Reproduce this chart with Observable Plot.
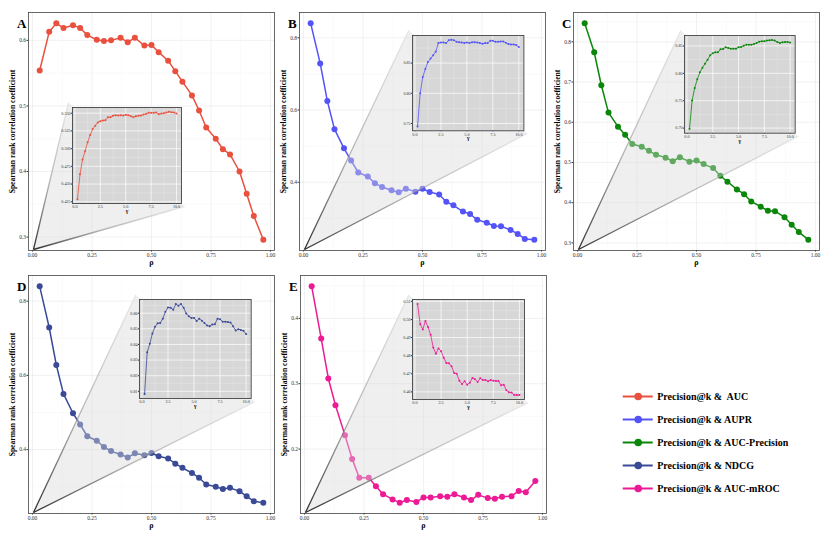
<!DOCTYPE html>
<html><head><meta charset="utf-8">
<script src="https://cdn.jsdelivr.net/npm/d3@7"></script>
<script src="https://cdn.jsdelivr.net/npm/@observablehq/plot@0.6"></script>
<style>
body{margin:0;background:#fff;}
#wrap{position:relative;width:830px;height:537px;overflow:hidden;font-family:"Liberation Serif",serif;}
#wrap svg{position:absolute;overflow:visible;background:transparent;}
</style></head><body><div id="wrap"></div>
<script>
// ---- data ----
const rho = [0.03,0.07,0.10,0.13,0.17,0.20,0.23,0.27,0.30,0.33,0.37,0.40,0.43,0.47,0.50,0.53,0.57,0.60,0.63,0.67,0.70,0.73,0.77,0.80,0.83,0.87,0.90,0.93,0.97];
const gamma = [0.25,0.5,0.75,1,1.25,1.5,1.75,2,2.25,2.5,2.75,3,3.25,3.5,3.75,4,4.25,4.5,4.75,5,5.25,5.5,5.75,6,6.25,6.5,6.75,7,7.25,7.5,7.75,8,8.25,8.5,8.75,9,9.25,9.5,9.75,10];

const seriesNames = ["Precision@k &  AUC","Precision@k & AUPR","Precision@k & AUC-Precision","Precision@k & NDCG","Precision@k & AUC-mROC"];
const seriesColors = ["#E9503E","#5454F6","#0A870A","#3A4A96","#EC1A95"];

const aucMain = [0.554,0.613,0.626,0.619,0.623,0.619,0.608,0.601,0.599,0.600,0.604,0.597,0.604,0.592,0.593,0.582,0.569,0.553,0.537,0.516,0.493,0.467,0.450,0.434,0.426,0.400,0.366,0.332,0.296];
const auprMain = [0.840,0.729,0.625,0.547,0.494,0.460,0.427,0.416,0.397,0.387,0.378,0.372,0.382,0.374,0.382,0.373,0.366,0.346,0.336,0.319,0.312,0.296,0.288,0.279,0.278,0.268,0.257,0.243,0.241];
const aucPrecMain = [0.846,0.774,0.692,0.624,0.589,0.569,0.546,0.539,0.529,0.519,0.512,0.503,0.513,0.502,0.505,0.496,0.486,0.467,0.452,0.433,0.421,0.403,0.390,0.380,0.379,0.364,0.345,0.327,0.308];
const ndcgMain = [0.840,0.729,0.628,0.550,0.498,0.468,0.436,0.424,0.407,0.396,0.387,0.379,0.390,0.385,0.391,0.382,0.376,0.362,0.351,0.337,0.324,0.306,0.300,0.294,0.297,0.288,0.274,0.261,0.257];
const mrocMain = [0.449,0.369,0.308,0.267,0.221,0.185,0.156,0.156,0.143,0.131,0.123,0.118,0.122,0.119,0.126,0.126,0.128,0.127,0.131,0.126,0.122,0.130,0.125,0.124,0.127,0.128,0.136,0.134,0.151];

const aucInset = [0.4287,0.4637,0.4847,0.4964,0.5090,0.5192,0.5276,0.5323,0.5369,0.5388,0.5397,0.5402,0.5444,0.5444,0.5463,0.5472,0.5467,0.5472,0.5467,0.5477,0.5472,0.5458,0.5444,0.5458,0.5463,0.5467,0.5481,0.5491,0.5505,0.5505,0.5505,0.5509,0.5486,0.5495,0.5500,0.5509,0.5519,0.5514,0.5509,0.5495];
const auprInset = [0.7451,0.8000,0.8268,0.8404,0.8519,0.8574,0.8628,0.8689,0.8831,0.8842,0.8842,0.8831,0.8880,0.8885,0.8880,0.8852,0.8847,0.8842,0.8831,0.8842,0.8831,0.8847,0.8847,0.8842,0.8831,0.8820,0.8831,0.8831,0.8869,0.8869,0.8852,0.8852,0.8858,0.8858,0.8836,0.8814,0.8809,0.8809,0.8798,0.8765];
const aucPrecInset = [0.6988,0.7506,0.7732,0.7890,0.8018,0.8104,0.8177,0.8250,0.8329,0.8366,0.8384,0.8384,0.8439,0.8445,0.8476,0.8463,0.8451,0.8451,0.8451,0.8476,0.8482,0.8506,0.8524,0.8524,0.8524,0.8537,0.8555,0.8579,0.8585,0.8585,0.8598,0.8604,0.8610,0.8598,0.8573,0.8555,0.8567,0.8573,0.8573,0.8561];
const ndcgInset = [0.8083,0.8350,0.8404,0.8470,0.8513,0.8535,0.8537,0.8565,0.8609,0.8637,0.8635,0.8622,0.8659,0.8648,0.8659,0.8635,0.8598,0.8580,0.8570,0.8570,0.8550,0.8565,0.8552,0.8537,0.8522,0.8517,0.8528,0.8530,0.8565,0.8561,0.8546,0.8546,0.8543,0.8541,0.8517,0.8489,0.8498,0.8493,0.8487,0.8467];
const mrocInset = [0.5085,0.4974,0.4945,0.4992,0.4958,0.4915,0.4845,0.4811,0.4840,0.4825,0.4789,0.4760,0.4758,0.4742,0.4704,0.4700,0.4662,0.4643,0.4658,0.4640,0.4651,0.4677,0.4670,0.4655,0.4675,0.4666,0.4666,0.4658,0.4666,0.4662,0.4660,0.4660,0.4636,0.4640,0.4609,0.4598,0.4596,0.4583,0.4583,0.4583];

const rhoTicks = [0,0.25,0.5,0.75,1];
const gammaTicks = [0,2.5,5,7.5,10];
const mainYTicks = [[0.3,0.4,0.5,0.6],[0.4,0.6,0.8],[0.3,0.4,0.5,0.6,0.7,0.8],[0.4,0.6,0.8],[0.2,0.3,0.4]];
const insetYTicks = [[0.425,0.45,0.475,0.5,0.525,0.55],[0.75,0.8,0.85],[0.7,0.75,0.8,0.85],[0.81,0.82,0.83,0.84,0.85,0.86],[0.46,0.47,0.48,0.49,0.5,0.51]];
const insetYFormats = [".3f",".2f",".2f",".2f",".2f"];
const letters = ["A","B","C","D","E"];
const mainSeries = [aucMain,auprMain,aucPrecMain,ndcgMain,mrocMain];
const insetSeries = [aucInset,auprInset,aucPrecInset,ndcgInset,mrocInset];

// ---- layout (pixels) ----
const layout = [
  {left:0,   top:0,   box:[72,107,109,96]},
  {left:271, top:0,   box:[141.3,34.7,111.4,95.3]},
  {left:545, top:0,   box:[139.3,35,110.7,97.7]},
  {left:0,   top:263, box:[139.3,36.3,111.7,99]},
  {left:272, top:263, box:[140.3,36.3,112,100]}
];
const W=275, H=272, ML=28, MR=1, MT=12, MB=22;
const FONT = "'Liberation Serif', 'Times New Roman', serif";
const wrap = document.getElementById("wrap");

function expand(v){const [a,b]=d3.extent(v); const r=b-a; return [a-0.05*r, b+0.05*r];}
function minors(ticks, dom){
  const s = ticks[1]-ticks[0];
  const out = ticks.map(t=>t-s/2).concat([ticks[ticks.length-1]+s/2]);
  return out.filter(v=>v>dom[0] && v<dom[1]);
}
function place(svg, left, top){ svg.style.left = left+"px"; svg.style.top = top+"px"; wrap.appendChild(svg); }

letters.forEach((letter,i)=>{
  const L = layout[i], color = seriesColors[i];
  const mainData = rho.map((r,j)=>({x:r, y:mainSeries[i][j]}));
  const xd = expand(rho), yd = expand(mainSeries[i]);
  const sx = Plot.scale({x:{domain:xd, range:[ML, W-MR]}});
  const sy = Plot.scale({y:{domain:yd, range:[H-MB, MT]}});
  const [bl,bt,bw,bh] = L.box;
  const O = {x: sx.invert(ML+5), y: sy.invert(H-MB-1)};
  const P1 = {x: sx.invert(bl-4), y: sy.invert(bt-5)};
  const P2 = {x: sx.invert(bl+bw+3), y: sy.invert(bt+bh+3)};
  const tri = [O,P1,P2];
  const edges = [{x1:O.x,y1:O.y,x2:P1.x,y2:P1.y},{x1:O.x,y1:O.y,x2:P2.x,y2:P2.y}];
  const gid = "grad"+letter;
  const yt = mainYTicks[i];
  const yMid = (yd[0]+yd[1])/2;
  const main = Plot.plot({
    width:W, height:H, marginLeft:ML, marginRight:MR, marginTop:MT, marginBottom:MB,
    style:{fontFamily:FONT, fontSize:"5.5px", color:"#333", background:"transparent"},
    x:{domain:xd, ticks:rhoTicks, tickFormat:d3.format(".2f"), tickSize:1.5, tickPadding:1.5, label:null},
    y:{domain:yd, ticks:yt, tickFormat:d3.format(".1f"), tickSize:1.5, tickPadding:1, label:null},
    marks:[
      ()=>{const d=d3.create("svg:defs");const g=d.append("linearGradient").attr("id",gid).attr("x1",0).attr("y1",1).attr("x2",1).attr("y2",0);
           g.append("stop").attr("offset","0%").attr("stop-color","#222").attr("stop-opacity",0.95);
           g.append("stop").attr("offset","45%").attr("stop-color","#888").attr("stop-opacity",0.6);
           g.append("stop").attr("offset","100%").attr("stop-color","#d8d8d8").attr("stop-opacity",0.5);return d.node();},
      Plot.ruleX(minors(rhoTicks,xd),{stroke:"#f2f2f2",strokeWidth:0.4}),
      Plot.ruleY(minors(yt,yd),{stroke:"#f2f2f2",strokeWidth:0.4}),
      Plot.ruleX(rhoTicks,{stroke:"#e8e8e8",strokeWidth:0.6}),
      Plot.ruleY(yt,{stroke:"#e8e8e8",strokeWidth:0.6}),
      Plot.line(mainData,{x:"x",y:"y",stroke:color,strokeWidth:1.5}),
      Plot.dot(mainData,{x:"x",y:"y",r:3,fill:color,stroke:"none"}),
      Plot.line(tri,{x:"x",y:"y",fill:"#d8d8d8",fillOpacity:0.42,stroke:"none",curve:"linear-closed"}),
      Plot.link(edges,{x1:"x1",y1:"y1",x2:"x2",y2:"y2",stroke:`url(#${gid})`,strokeWidth:1.3}),
      Plot.frame({stroke:"#444",strokeWidth:0.8}),
      Plot.text(["Spearman rank correlation coefficient"],{text:d=>d,x:xd[0],y:yMid,rotate:-90,dx:-15.5,textAnchor:"middle",fontSize:7.6,fontWeight:"bold",fill:"#000"}),
      Plot.text(["ρ"],{text:d=>d,frameAnchor:"bottom",dy:14,fontSize:8,fontWeight:"bold",fill:"#000"}),
      Plot.text([letter],{text:d=>d,frameAnchor:"top-left",dx:-11.5,dy:6.5,fontSize:13,fontWeight:"bold",fill:"#000"})
    ]
  });
  place(main, L.left, L.top);

  // inset
  const iml=14, imr=1, imt=1, imb=14;
  const insetData = gamma.map((g,j)=>({x:g, y:insetSeries[i][j]}));
  const ixd = expand(gamma), iyd = expand(insetSeries[i]);
  const iyt = insetYTicks[i];
  const inset = Plot.plot({
    width:bw+iml+imr, height:bh+imt+imb, marginLeft:iml, marginRight:imr, marginTop:imt, marginBottom:imb,
    style:{fontFamily:FONT, fontSize:"4.2px", color:"#333", background:"transparent"},
    x:{domain:ixd, ticks:gammaTicks, tickFormat:d3.format(".1f"), tickSize:1, tickPadding:0.8, label:null},
    y:{domain:iyd, ticks:iyt, tickFormat:d3.format(insetYFormats[i]), tickSize:1, tickPadding:0.8, label:null},
    marks:[
      Plot.frame({fill:"#d7d7d7",stroke:"none"}),
      Plot.ruleX(minors(gammaTicks,ixd),{stroke:"#eeeeee",strokeWidth:0.35}),
      Plot.ruleY(minors(iyt,iyd),{stroke:"#eeeeee",strokeWidth:0.35}),
      Plot.ruleX(gammaTicks,{stroke:"#ffffff",strokeWidth:0.7}),
      Plot.ruleY(iyt,{stroke:"#ffffff",strokeWidth:0.7}),
      Plot.line(insetData,{x:"x",y:"y",stroke:color,strokeWidth:0.8}),
      Plot.dot(insetData,{x:"x",y:"y",r:1,fill:color,stroke:"none"}),
      Plot.frame({stroke:"#444",strokeWidth:0.9}),
      Plot.text(["γ"],{text:d=>d,frameAnchor:"bottom",dy:9.5,fontSize:5.5,fontWeight:"bold",fill:"#000"})
    ]
  });
  place(inset, L.left+bl-iml, L.top+bt-imt);
});

// legend
const legend = Plot.plot({
  width:220, height:150, margin:0,
  style:{fontFamily:FONT, background:"transparent", whiteSpace:"pre"},
  x:{type:"identity", axis:null},
  y:{type:"point", domain:seriesNames, range:[24,140], axis:null},
  marks:[
    Plot.ruleY(seriesNames,{y:d=>d,x1:22.7,x2:52.7,stroke:d=>seriesColors[seriesNames.indexOf(d)],strokeWidth:2}),
    Plot.dot(seriesNames,{y:d=>d,x:37.7,r:3.8,fill:d=>seriesColors[seriesNames.indexOf(d)],stroke:"none"}),
    Plot.text(seriesNames,{y:d=>d,x:56.7,text:d=>d,textAnchor:"start",fontSize:10,fontWeight:"bold",fill:"#000"})
  ],
  color:{type:"identity"}
});
place(legend, 600, 360);
</script>
</body></html>
